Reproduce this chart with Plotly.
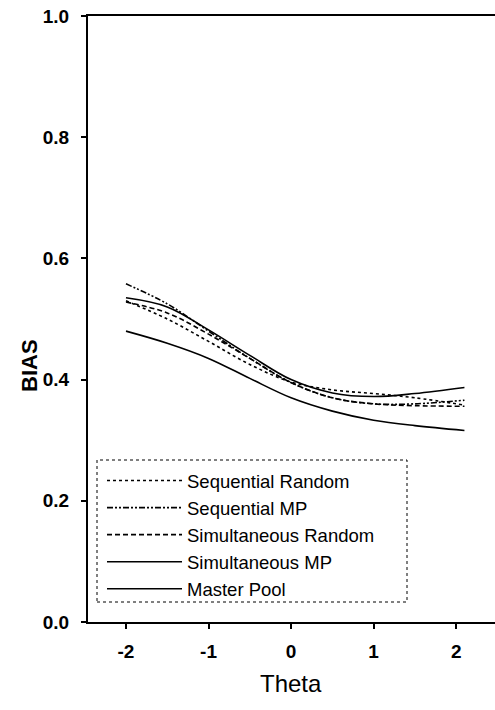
import plotly.graph_objects as go

theta = [-2.0, -1.5, -1.0, -0.5, 0.0, 0.5, 1.0, 1.5, 2.1]
seq_random = [0.530, 0.500, 0.463, 0.425, 0.396, 0.383, 0.377, 0.370, 0.358]
seq_mp = [0.558, 0.525, 0.480, 0.435, 0.395, 0.370, 0.360, 0.360, 0.366]
sim_random = [0.528, 0.510, 0.475, 0.435, 0.395, 0.370, 0.360, 0.357, 0.356]
sim_mp = [0.535, 0.520, 0.482, 0.440, 0.400, 0.378, 0.372, 0.377, 0.387]
master_pool = [0.480, 0.460, 0.435, 0.402, 0.370, 0.348, 0.333, 0.324, 0.316]

names = ["Sequential Random", "Sequential MP", "Simultaneous Random", "Simultaneous MP", "Master Pool"]
series = [seq_random, seq_mp, sim_random, sim_mp, master_pool]
dashes = ["dot", "6px,2px,2px,2px,2px,2px", "5px,3px", "solid", "solid"]

x_ticks = [-2, -1, 0, 1, 2]
y_ticks = [0.0, 0.2, 0.4, 0.6, 0.8, 1.0]

fig = go.Figure()
for n, s, d in zip(names, series, dashes):
    fig.add_trace(go.Scatter(x=theta, y=s, name=n, mode="lines",
                             line=dict(color="black", width=1.6, dash=d, shape="spline")))

font_family = "Liberation Sans, Arial, sans-serif"
fig.update_layout(
    width=495, height=710,
    margin=dict(l=88, r=0, t=16, b=88),
    paper_bgcolor="white", plot_bgcolor="white",
    font=dict(family=font_family, color="black"),
    showlegend=True,
    legend=dict(x=(102 - 88) / 407, y=(622 - 462) / 606, xanchor="left", yanchor="top",
                bgcolor="rgba(0,0,0,0)", borderwidth=0, itemwidth=75,
                font=dict(size=18.5, family=font_family)),
    xaxis=dict(range=[-2.46, 2.47], tickvals=x_ticks, ticktext=[str(v) for v in x_ticks],
               showgrid=False, zeroline=False, showline=True, linecolor="black", linewidth=2,
               mirror=True, ticks="outside", ticklen=5, tickwidth=1.5, tickcolor="black",
               tickfont=dict(size=19, weight="bold"), ticklabelstandoff=6),
    yaxis=dict(range=[0, 1.0], tickvals=y_ticks, ticktext=[f"{v:.1f}" for v in y_ticks],
               showgrid=False, zeroline=False, showline=True, linecolor="black", linewidth=2,
               ticks="outside", ticklen=5, tickwidth=1.5, tickcolor="black",
               tickfont=dict(size=19, weight="bold"), ticklabelstandoff=8),
    annotations=[
        dict(text="Theta", x=(291 - 88) / 407, y=(622 - 683) / 606, xref="paper", yref="paper",
             showarrow=False, font=dict(size=24, family=font_family), xanchor="center", yanchor="middle"),
        dict(text="BIAS", x=(30 - 88) / 407, y=(622 - 365) / 606, xref="paper", yref="paper",
             showarrow=False, textangle=-90, font=dict(size=22, family=font_family, weight="bold"),
             xanchor="center", yanchor="middle"),
    ],
    shapes=[
        dict(type="rect", xref="paper", yref="paper",
             x0=(97 - 88) / 407, x1=(407 - 88) / 407, y0=(622 - 602) / 606, y1=(622 - 460) / 606,
             line=dict(color="black", width=1, dash="dot"), fillcolor="rgba(0,0,0,0)"),
    ],
)

fig.write_html("out.html")
